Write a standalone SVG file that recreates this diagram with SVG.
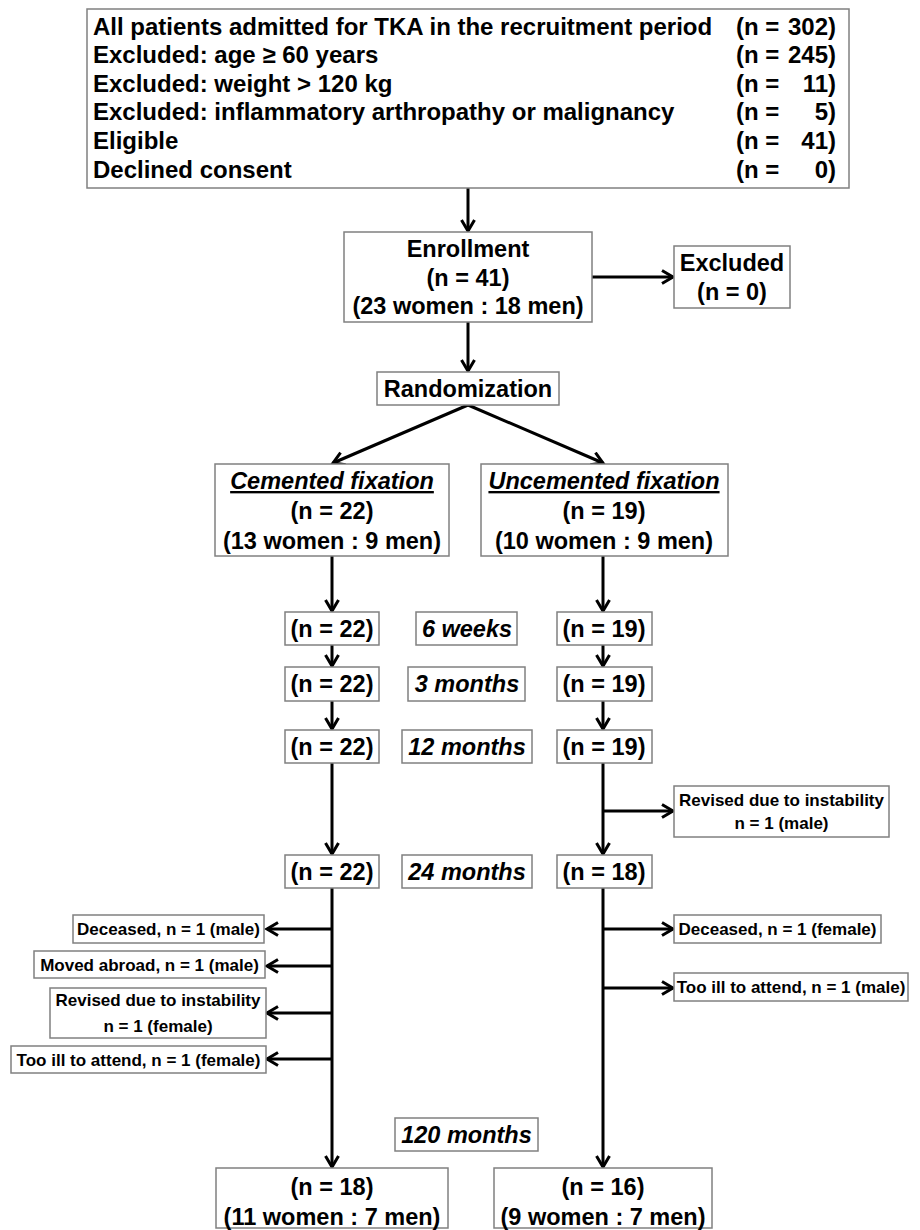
<svg xmlns="http://www.w3.org/2000/svg" width="920" height="1230" viewBox="0 0 920 1230">
<style>
  .box { fill: #ffffff; stroke: #808080; stroke-width: 1.5; }
  .t { font-family: "Liberation Sans", Arial, sans-serif; font-weight: bold; font-size: 23.5px; fill: #000; }
  .top { font-size: 24px; }
  .c { text-anchor: middle; }
  .e { text-anchor: end; }
  .i { font-style: italic; }
  .u { text-decoration: underline; }
  .s { font-family: "Liberation Sans", Arial, sans-serif; font-weight: bold; font-size: 17px; fill: #000; text-anchor: middle; }
  .ln { stroke: #000; stroke-width: 3; fill: none; marker-end: url(#arr); }
</style>
<defs>
  <marker id="arr" markerUnits="userSpaceOnUse" viewBox="0 0 16 16" markerWidth="16" markerHeight="16" refX="13" refY="8" orient="auto">
    <path d="M2,1.5 L13,8 L2,14.5" fill="none" stroke="#000" stroke-width="3"/>
  </marker>
</defs>
<rect width="920" height="1230" fill="#ffffff"/>

<g id="connectors">
  <line class="ln" x1="468" y1="188" x2="468" y2="231"/>
  <line class="ln" x1="592" y1="277" x2="673" y2="277"/>
  <line class="ln" x1="468" y1="322" x2="468" y2="371"/>
  <line class="ln" x1="468" y1="405" x2="333" y2="463"/>
  <line class="ln" x1="468" y1="405" x2="603" y2="463"/>
  <line class="ln" x1="332" y1="556" x2="332" y2="611"/>
  <line class="ln" x1="332" y1="645" x2="332" y2="666"/>
  <line class="ln" x1="332" y1="701" x2="332" y2="729"/>
  <line class="ln" x1="332" y1="763" x2="332" y2="854"/>
  <line class="ln" x1="332" y1="888" x2="332" y2="1167"/>
  <line class="ln" x1="603" y1="556" x2="603" y2="611"/>
  <line class="ln" x1="603" y1="645" x2="603" y2="666"/>
  <line class="ln" x1="603" y1="701" x2="603" y2="729"/>
  <line class="ln" x1="603" y1="763" x2="603" y2="854"/>
  <line class="ln" x1="603" y1="888" x2="603" y2="1167"/>
  <line class="ln" x1="603" y1="811" x2="673" y2="811"/>
  <line class="ln" x1="603" y1="929" x2="673" y2="929"/>
  <line class="ln" x1="603" y1="988" x2="673" y2="988"/>
  <line class="ln" x1="332" y1="929" x2="267" y2="929"/>
  <line class="ln" x1="332" y1="966" x2="267" y2="966"/>
  <line class="ln" x1="332" y1="1013" x2="267" y2="1013"/>
  <line class="ln" x1="332" y1="1059" x2="267" y2="1059"/>
</g>

<g id="screening">
  <rect class="box" x="87" y="9" width="762" height="179"/>
  <text class="t top" x="93" y="35">All patients admitted for TKA in the recruitment period</text>
  <text class="t top" x="93" y="63">Excluded: age ≥ 60 years</text>
  <text class="t top" x="93" y="92">Excluded: weight &gt; 120 kg</text>
  <text class="t top" x="93" y="120">Excluded: inflammatory arthropathy or malignancy</text>
  <text class="t top" x="93" y="149">Eligible</text>
  <text class="t top" x="93" y="178">Declined consent</text>
  <text class="t top" x="736" y="35">(n =</text><text class="t top e" x="836" y="35">302)</text>
  <text class="t top" x="736" y="63">(n =</text><text class="t top e" x="836" y="63">245)</text>
  <text class="t top" x="736" y="92">(n =</text><text class="t top e" x="836" y="92">11)</text>
  <text class="t top" x="736" y="120">(n =</text><text class="t top e" x="836" y="120">5)</text>
  <text class="t top" x="736" y="149">(n =</text><text class="t top e" x="836" y="149">41)</text>
  <text class="t top" x="736" y="178">(n =</text><text class="t top e" x="836" y="178">0)</text>
</g>

<g id="enrollment">
  <rect class="box" x="344" y="232" width="248" height="90"/>
  <text class="t c" x="468" y="257">Enrollment</text>
  <text class="t c" x="468" y="286">(n = 41)</text>
  <text class="t c" x="468" y="314">(23 women : 18 men)</text>
</g>

<g id="excluded">
  <rect class="box" x="674" y="246" width="116" height="62"/>
  <text class="t c" x="732" y="271">Excluded</text>
  <text class="t c" x="732" y="300">(n = 0)</text>
</g>

<g id="randomization">
  <rect class="box" x="377" y="372" width="182" height="33"/>
  <text class="t c" x="468" y="397">Randomization</text>
</g>

<g id="cemented">
  <rect class="box" x="215" y="464" width="234" height="92"/>
  <text class="t c i u" x="332" y="489">Cemented fixation</text>
  <text class="t c" x="332" y="519">(n = 22)</text>
  <text class="t c" x="332" y="549">(13 women : 9 men)</text>
</g>

<g id="uncemented">
  <rect class="box" x="481" y="464" width="247" height="92"/>
  <text class="t c i u" x="604" y="489">Uncemented fixation</text>
  <text class="t c" x="604" y="519">(n = 19)</text>
  <text class="t c" x="604" y="549">(10 women : 9 men)</text>
</g>

<g id="c-6w"><rect class="box" x="285" y="612" width="94" height="33"/><text class="t c" x="332" y="637">(n = 22)</text></g>
<g id="t-6w"><rect class="box" x="416" y="612" width="101" height="33"/><text class="t c i" x="467" y="637">6 weeks</text></g>
<g id="u-6w"><rect class="box" x="557" y="612" width="95" height="33"/><text class="t c" x="604" y="637">(n = 19)</text></g>

<g id="c-3m"><rect class="box" x="285" y="667" width="94" height="34"/><text class="t c" x="332" y="692">(n = 22)</text></g>
<g id="t-3m"><rect class="box" x="408" y="667" width="117" height="34"/><text class="t c i" x="467" y="692">3 months</text></g>
<g id="u-3m"><rect class="box" x="557" y="667" width="95" height="34"/><text class="t c" x="604" y="692">(n = 19)</text></g>

<g id="c-12m"><rect class="box" x="285" y="730" width="94" height="33"/><text class="t c" x="332" y="755">(n = 22)</text></g>
<g id="t-12m"><rect class="box" x="402" y="730" width="130" height="33"/><text class="t c i" x="467" y="755">12 months</text></g>
<g id="u-12m"><rect class="box" x="557" y="730" width="95" height="33"/><text class="t c" x="604" y="755">(n = 19)</text></g>

<g id="u-revised">
  <rect class="box" x="674" y="786" width="215" height="51"/>
  <text class="s" x="781.5" y="806">Revised due to instability</text>
  <text class="s" x="781.5" y="829">n = 1 (male)</text>
</g>

<g id="c-24m"><rect class="box" x="285" y="855" width="94" height="33"/><text class="t c" x="332" y="880">(n = 22)</text></g>
<g id="t-24m"><rect class="box" x="402" y="855" width="130" height="33"/><text class="t c i" x="467" y="880">24 months</text></g>
<g id="u-24m"><rect class="box" x="557" y="855" width="95" height="33"/><text class="t c" x="604" y="880">(n = 18)</text></g>

<g id="c-deceased"><rect class="box" x="73" y="915" width="191" height="28"/><text class="s" x="168.5" y="935">Deceased, n = 1 (male)</text></g>
<g id="c-moved"><rect class="box" x="34" y="951" width="231" height="27"/><text class="s" x="149.5" y="971">Moved abroad, n = 1 (male)</text></g>
<g id="c-revised">
  <rect class="box" x="50" y="988" width="216" height="50"/>
  <text class="s" x="158" y="1006">Revised due to instability</text>
  <text class="s" x="158" y="1032">n = 1 (female)</text>
</g>
<g id="c-ill"><rect class="box" x="11" y="1046" width="255" height="27"/><text class="s" x="138.5" y="1066">Too ill to attend, n = 1 (female)</text></g>

<g id="u-deceased"><rect class="box" x="674" y="915" width="207" height="28"/><text class="s" x="777.5" y="935">Deceased, n = 1 (female)</text></g>
<g id="u-ill"><rect class="box" x="674" y="973" width="234" height="28"/><text class="s" x="791" y="993">Too ill to attend, n = 1 (male)</text></g>

<g id="t-120m"><rect class="box" x="395" y="1118" width="143" height="33"/><text class="t c i" x="466.5" y="1143">120 months</text></g>

<g id="c-final">
  <rect class="box" x="216" y="1168" width="232" height="60"/>
  <text class="t c" x="332" y="1195">(n = 18)</text>
  <text class="t c" x="332" y="1225">(11 women : 7 men)</text>
</g>
<g id="u-final">
  <rect class="box" x="494" y="1168" width="218" height="60"/>
  <text class="t c" x="603" y="1195">(n = 16)</text>
  <text class="t c" x="603" y="1225">(9 women : 7 men)</text>
</g>
</svg>
